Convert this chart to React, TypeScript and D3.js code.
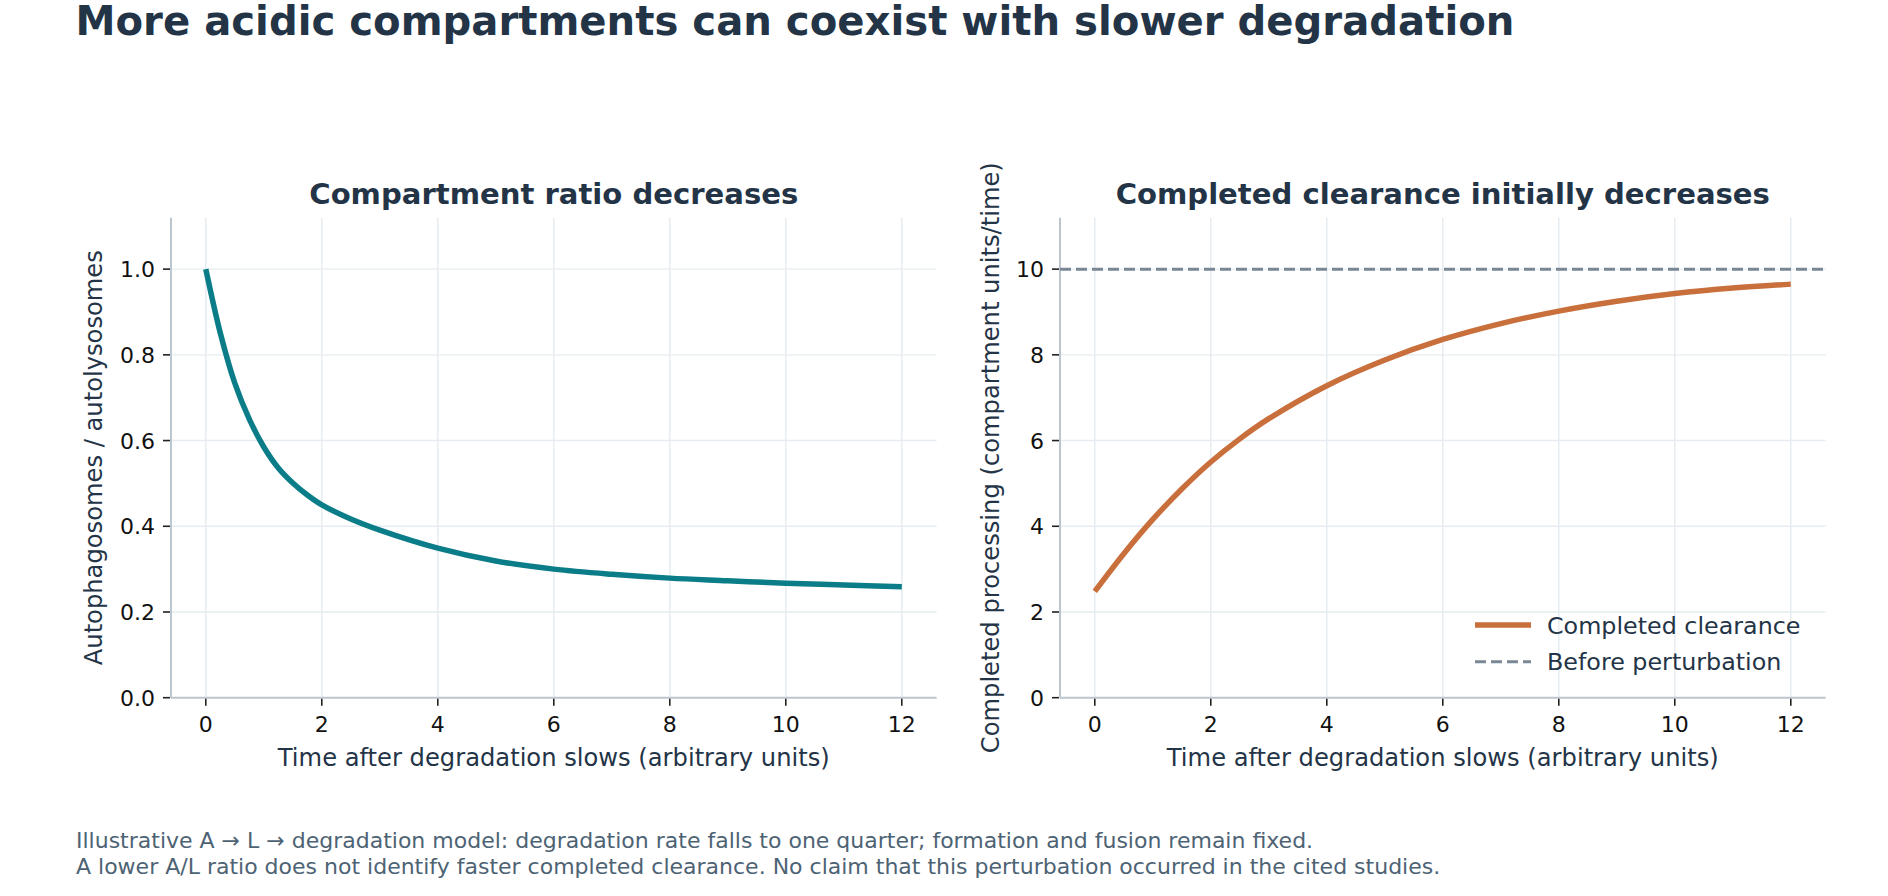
import React, { useEffect, useRef } from 'react';
import * as d3 from 'd3';

const chartTitle = 'More acidic compartments can coexist with slower degradation';
const leftTitle = 'Compartment ratio decreases';
const rightTitle = 'Completed clearance initially decreases';
const xLabel = 'Time after degradation slows (arbitrary units)';
const leftYLabel = 'Autophagosomes / autolysosomes';
const rightYLabel = 'Completed processing (compartment units/time)';
const footnotes = [
  'Illustrative A → L → degradation model: degradation rate falls to one quarter; formation and fusion remain fixed.',
  'A lower A/L ratio does not identify faster completed clearance. No claim that this perturbation occurred in the cited studies.',
];

const xTicks = [0, 2, 4, 6, 8, 10, 12];
const ratioTicks = [0, 0.2, 0.4, 0.6, 0.8, 1.0];
const clearanceTicks = [0, 2, 4, 6, 8, 10];

const ratioTimes = [0, 0.25, 0.5, 0.75, 1, 1.25, 1.5, 1.75, 2, 2.5, 3, 4, 5, 6, 7, 8, 9, 10, 11, 12];
const ratioValues = [1.0, 0.851, 0.734, 0.65, 0.585, 0.536, 0.501, 0.473, 0.45, 0.417, 0.391, 0.349, 0.319, 0.3, 0.288, 0.279, 0.273, 0.267, 0.263, 0.259];

const clearanceTimes = [0, 0.5, 1, 1.5, 2, 2.5, 3, 4, 5, 6, 7, 8, 9, 10, 11, 12];
const clearanceValues = [2.48, 3.36, 4.16, 4.87, 5.5, 6.04, 6.51, 7.28, 7.88, 8.36, 8.73, 9.02, 9.25, 9.43, 9.56, 9.65];
const baselineClearance = 10;

const legendLabels = ['Completed clearance', 'Before perturbation'];

const FONT = '"DejaVu Sans", sans-serif';
const TEXT = '#243447';
const TEAL = '#0b7d88';
const ORANGE = '#c96f3b';
const DASH = '#7a8896';
const GRID = '#e6ecf1';
const SPINE = '#bcc6ce';

const App = () => {
  const ref = useRef<SVGSVGElement>(null);

  useEffect(() => {
    const svg = d3.select(ref.current);
    svg.selectAll('*').remove();

    const top = 217.7;
    const bottom = 697.7;
    const w = 765.6;

    const drawPanel = (
      x0: number,
      yMax: number,
      yTicks: number[],
      fmt: (d: number) => string,
      title: string,
      yLabel: string,
      yLabelX: number,
    ) => {
      const x = d3.scaleLinear().domain([-0.6, 12.6]).range([x0, x0 + w]);
      const y = d3.scaleLinear().domain([0, yMax]).range([bottom, top]);
      const g = svg.append('g');

      // grid
      g.selectAll('.vg').data(xTicks).join('line')
        .attr('x1', d => x(d)).attr('x2', d => x(d))
        .attr('y1', top).attr('y2', bottom)
        .attr('stroke', GRID).attr('stroke-width', 1.4);
      g.selectAll('.hg').data(yTicks).join('line')
        .attr('x1', x0).attr('x2', x0 + w)
        .attr('y1', d => y(d)).attr('y2', d => y(d))
        .attr('stroke', GRID).attr('stroke-width', 1.4);

      // spines
      g.append('line').attr('x1', x0).attr('x2', x0).attr('y1', top).attr('y2', bottom)
        .attr('stroke', SPINE).attr('stroke-width', 2);
      g.append('line').attr('x1', x0).attr('x2', x0 + w).attr('y1', bottom).attr('y2', bottom)
        .attr('stroke', SPINE).attr('stroke-width', 2);

      // x ticks
      g.selectAll('.xt').data(xTicks).join('line')
        .attr('x1', d => x(d)).attr('x2', d => x(d))
        .attr('y1', bottom + 1).attr('y2', bottom + 8)
        .attr('stroke', '#222').attr('stroke-width', 1.6);
      g.selectAll('.xl').data(xTicks).join('text')
        .attr('x', d => x(d)).attr('y', 732)
        .attr('text-anchor', 'middle')
        .attr('font-size', 22).attr('fill', '#111')
        .text(d => String(d));

      // y ticks
      g.selectAll('.yt').data(yTicks).join('line')
        .attr('x1', x0 - 8).attr('x2', x0 - 1)
        .attr('y1', d => y(d)).attr('y2', d => y(d))
        .attr('stroke', '#222').attr('stroke-width', 1.6);
      g.selectAll('.yl').data(yTicks).join('text')
        .attr('x', x0 - 16).attr('y', d => y(d) + 8)
        .attr('text-anchor', 'end')
        .attr('font-size', 22).attr('fill', '#111')
        .text(fmt);

      // labels
      g.append('text')
        .attr('x', x0 + w / 2).attr('y', 204.3)
        .attr('text-anchor', 'middle')
        .attr('font-size', 29.1).attr('font-weight', 'bold').attr('fill', TEXT)
        .text(title);
      g.append('text')
        .attr('x', x0 + w / 2).attr('y', 766)
        .attr('text-anchor', 'middle')
        .attr('font-size', 24.2).attr('fill', TEXT)
        .text(xLabel);
      g.append('text')
        .attr('transform', `translate(${yLabelX}, ${(top + bottom) / 2}) rotate(-90)`)
        .attr('text-anchor', 'middle')
        .attr('font-size', 24.2).attr('fill', TEXT)
        .text(yLabel);

      return { g, x, y };
    };

    svg.append('text')
      .attr('x', 75.5).attr('y', 35)
      .attr('font-size', 40.2).attr('font-weight', 'bold').attr('fill', TEXT)
      .text(chartTitle);

    // Left panel
    const left = drawPanel(171, 1.12, ratioTicks, d3.format('.1f'), leftTitle, leftYLabel, 102);
    const ratioLine = d3.line<number>()
      .x((_, i) => left.x(ratioTimes[i]))
      .y(d => left.y(d))
      .curve(d3.curveCatmullRom.alpha(0.5));
    left.g.append('path')
      .attr('d', ratioLine(ratioValues))
      .attr('fill', 'none').attr('stroke', TEAL).attr('stroke-width', 5.5);

    // Right panel
    const right = drawPanel(1060, 11.2, clearanceTicks, d3.format('d'), rightTitle, rightYLabel, 999);
    right.g.append('line')
      .attr('x1', 1060).attr('x2', 1060 + w)
      .attr('y1', right.y(baselineClearance)).attr('y2', right.y(baselineClearance))
      .attr('stroke', DASH).attr('stroke-width', 3).attr('stroke-dasharray', '11,5');
    const clearanceLine = d3.line<number>()
      .x((_, i) => right.x(clearanceTimes[i]))
      .y(d => right.y(d))
      .curve(d3.curveCatmullRom.alpha(0.5));
    right.g.append('path')
      .attr('d', clearanceLine(clearanceValues))
      .attr('fill', 'none').attr('stroke', ORANGE).attr('stroke-width', 5.5);

    // legend
    const legend = svg.append('g').attr('transform', 'translate(1475, 625)');
    legendLabels.forEach((label, i) => {
      const row = legend.append('g').attr('transform', `translate(0, ${i * 36.7})`);
      row.append('line')
        .attr('x1', 0).attr('x2', 56).attr('y1', 0).attr('y2', 0)
        .attr('stroke', i === 0 ? ORANGE : DASH)
        .attr('stroke-width', i === 0 ? 5.5 : 3)
        .attr('stroke-dasharray', i === 0 ? null : '11,5');
      row.append('text')
        .attr('x', 72).attr('y', 8.5)
        .attr('font-size', 23.8).attr('fill', TEXT)
        .text(label);
    });

    // footnote
    svg.selectAll('.fn').data(footnotes).join('text')
      .attr('x', 76).attr('y', (_, i) => 848 + i * 25.7)
      .attr('font-size', 22).attr('fill', '#4d6374')
      .text(d => d);
  }, []);

  return (
    <svg
      ref={ref}
      width={1888}
      height={896}
      style={{ position: 'absolute', left: 0, top: 0, fontFamily: FONT, background: '#fff' }}
    />
  );
};

export default App;
